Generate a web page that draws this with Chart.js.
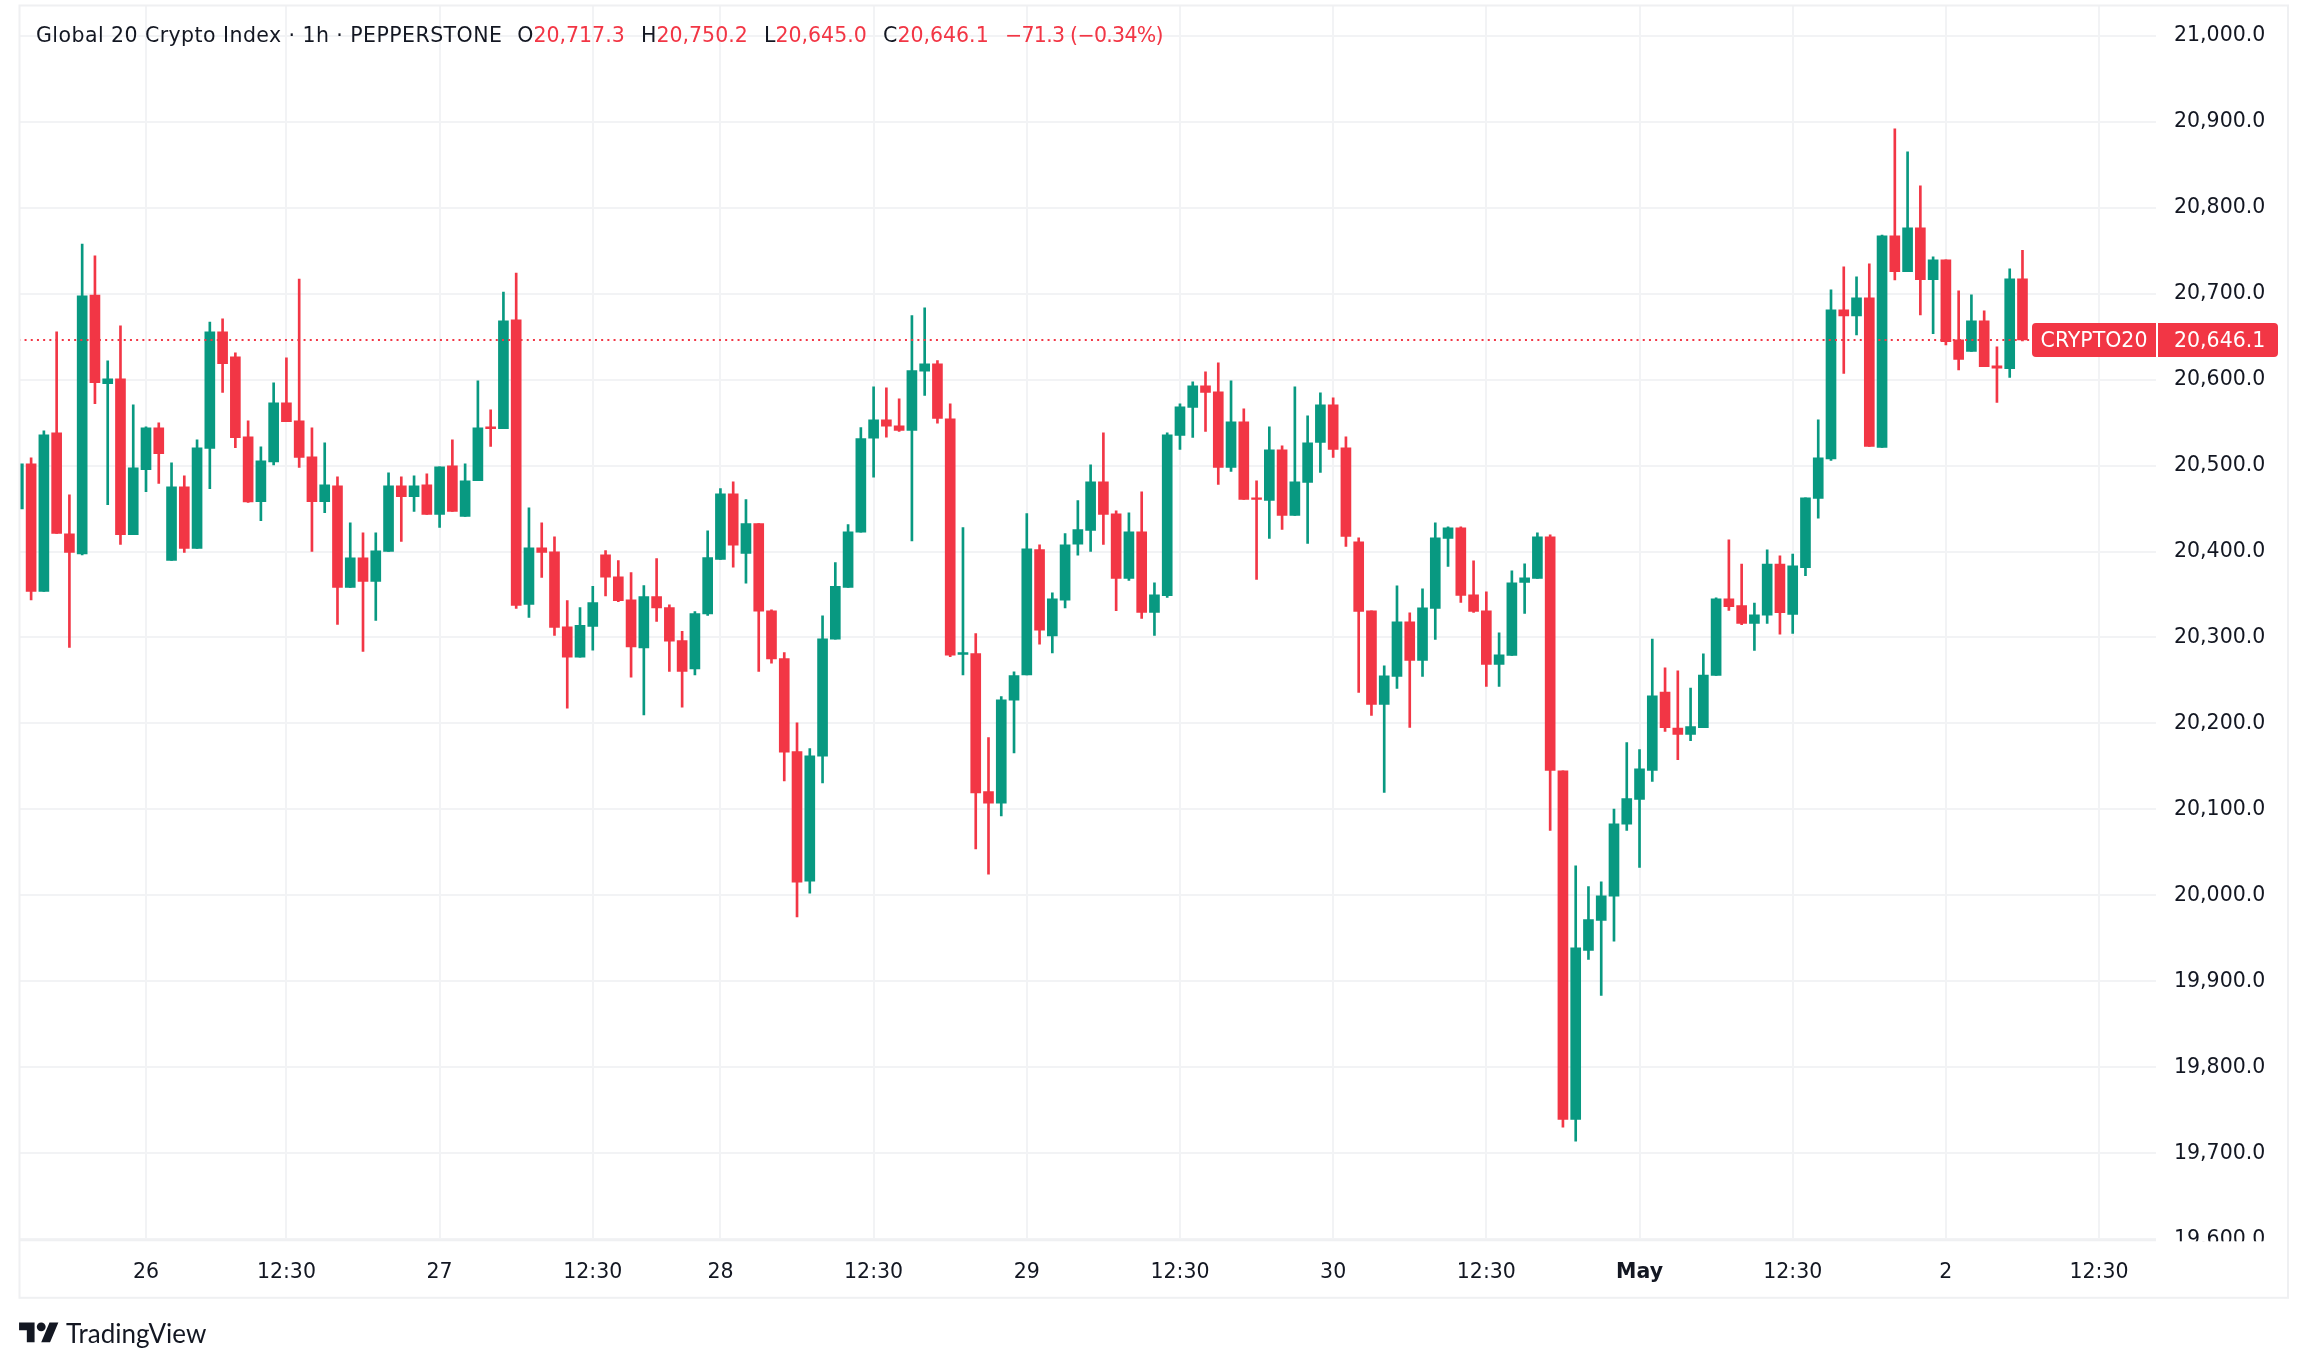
<!DOCTYPE html>
<html>
<head>
<meta charset="utf-8">
<title>Global 20 Crypto Index</title>
<script src="https://cdn.jsdelivr.net/npm/chart.js@4"></script>
<style>
    html, body { margin: 0; padding: 0; background: #fff; }
    body { width: 2308px; height: 1369px; position: relative; overflow: hidden; font-family: "DejaVu Sans", sans-serif; color: #131722; }
    canvas { position: absolute; left: 0; top: 0; }
    #legend { position: absolute; left: 36px; top: 22px; font-size: 20.5px; line-height: 26px; white-space: nowrap; }
    #legend .title { letter-spacing: 0.44px; margin-right: 15px; }
    #legend .val { color: #F23645; margin-right: 16.3px; }
    #legend .change { letter-spacing: -0.7px; }
    #brand { position: absolute; left: 19px; top: 1318px; display: flex; align-items: center; font-family: Lato, sans-serif; font-size: 26px; height: 30px; }
    #brand svg { width: 40px; height: 31px; margin-right: 7px; }
</style>
</head>
<body>
<canvas id="chart" width="2308" height="1369"></canvas>
<div id="legend"><span class="title">Global 20 Crypto Index · 1h · PEPPERSTONE</span>O<span class="val">20,717.3</span>H<span class="val">20,750.2</span>L<span class="val">20,645.0</span>C<span class="val">20,646.1</span><span class="val change">−71.3 (−0.34%)</span></div>
<div id="brand"><svg viewBox="0 0 36 28"><path fill="#131722" d="M14 22H7V11H0V4h14v18zM28 22h-8l7.5-18h8L28 22z"/><circle fill="#131722" cx="20" cy="8" r="4"/></svg>TradingView</div>
<script>
// 1h candles
const opens = [
    20449.6, 20501.9, 20353.5, 20538.0, 20420.5, 20397.3, 20698.4, 20595.3, 20600.8, 20419.7,
    20495.3, 20543.8, 20389.5, 20475.2, 20403.5, 20519.8, 20655.4, 20626.3, 20533.3, 20458.1,
    20504.2, 20572.9, 20551.9, 20510.1, 20458.1, 20476.3, 20358.1, 20392.6, 20365.1, 20400.0,
    20476.3, 20463.9, 20477.5, 20443.0, 20499.6, 20440.7, 20482.5, 20544.9, 20543.0, 20669.4,
    20338.4, 20404.2, 20399.6, 20312.4, 20277.1, 20312.9, 20396.2, 20370.6, 20343.9, 20287.8,
    20347.6, 20334.8, 20296.4, 20263.3, 20327.3, 20390.9, 20467.2, 20397.8, 20432.5, 20331.1,
    20275.5, 20167.2, 20016.6, 20161.8, 20298.0, 20358.3, 20422.4, 20531.8, 20553.2, 20546.2,
    20540.9, 20609.8, 20618.3, 20554.2, 20280.3, 20281.4, 20120.7, 20107.4, 20227.0, 20256.3,
    20402.1, 20301.7, 20343.3, 20408.5, 20424.5, 20481.1, 20443.8, 20368.7, 20422.9, 20329.1,
    20348.5, 20534.9, 20567.5, 20592.7, 20585.7, 20497.7, 20550.8, 20462.4, 20459.3, 20518.3,
    20441.9, 20480.3, 20526.8, 20570.6, 20520.6, 20411.3, 20331.1, 20222.1, 20254.7, 20318.3,
    20273.3, 20333.8, 20415.2, 20427.6, 20349.7, 20331.1, 20268.6, 20279.1, 20364.0, 20368.7,
    20417.1, 20144.8, 19739.4, 19936.0, 19970.8, 19999.1, 20082.8, 20111.5, 20145.3, 20236.6,
    20194.7, 20187.2, 20195.2, 20255.8, 20345.0, 20337.0, 20316.3, 20325.9, 20385.4, 20326.9,
    20381.3, 20461.7, 20507.8, 20681.0, 20674.1, 20695.0, 20521.0, 20767.1, 20725.6, 20776.4,
    20716.3, 20739.2, 20646.2, 20632.6, 20668.2, 20615.9, 20612.8, 20717.3
];
const highs = [
    20501.9, 20508.9, 20540.3, 20655.4, 20465.9, 20757.7, 20743.8, 20621.7, 20662.4, 20570.5,
    20544.9, 20549.6, 20503.1, 20488.0, 20529.8, 20667.0, 20670.5, 20631.0, 20551.9, 20521.7,
    20596.1, 20625.2, 20717.0, 20543.8, 20526.3, 20486.8, 20433.3, 20421.7, 20421.7, 20491.5,
    20486.8, 20488.0, 20490.3, 20498.4, 20529.8, 20501.9, 20598.4, 20564.7, 20701.9, 20724.0,
    20450.8, 20433.3, 20417.0, 20342.8, 20334.8, 20359.4, 20401.0, 20389.3, 20375.4, 20360.4,
    20391.9, 20338.0, 20307.0, 20330.0, 20424.0, 20473.1, 20481.1, 20460.3, 20432.5, 20332.1,
    20282.5, 20200.8, 20170.9, 20325.2, 20387.1, 20431.4, 20544.1, 20591.6, 20590.5, 20577.7,
    20674.4, 20683.4, 20622.0, 20571.9, 20427.7, 20304.4, 20183.7, 20231.2, 20260.1, 20444.2,
    20407.9, 20351.9, 20420.8, 20459.2, 20500.8, 20538.0, 20447.3, 20445.0, 20469.4, 20363.6,
    20538.0, 20571.8, 20597.3, 20609.0, 20619.4, 20598.5, 20565.9, 20482.2, 20545.0, 20522.9,
    20591.5, 20557.8, 20584.5, 20578.7, 20533.4, 20415.9, 20331.1, 20267.1, 20360.1, 20328.7,
    20356.6, 20433.4, 20428.7, 20428.7, 20389.2, 20353.1, 20305.5, 20377.6, 20385.7, 20421.8,
    20419.4, 20144.8, 20034.4, 20010.2, 20015.7, 20100.4, 20177.6, 20169.5, 20298.1, 20264.8,
    20261.3, 20241.1, 20281.0, 20346.0, 20413.6, 20385.4, 20340.0, 20402.0, 20394.9, 20397.0,
    20462.4, 20553.1, 20704.3, 20731.0, 20719.4, 20734.5, 20768.2, 20891.5, 20864.8, 20825.2,
    20742.7, 20739.2, 20703.1, 20698.5, 20679.9, 20638.0, 20728.7, 20750.2
];
const lows = [
    20449.6, 20343.8, 20353.5, 20420.9, 20288.4, 20396.1, 20572.1, 20454.6, 20408.1, 20419.7,
    20469.7, 20479.1, 20389.5, 20398.8, 20403.5, 20473.2, 20584.9, 20520.9, 20457.0, 20436.0,
    20500.8, 20551.1, 20497.7, 20400.0, 20445.3, 20315.1, 20358.1, 20283.7, 20319.7, 20400.0,
    20411.6, 20446.5, 20443.0, 20427.9, 20446.5, 20440.7, 20482.5, 20522.1, 20543.0, 20333.7,
    20323.2, 20369.8, 20302.3, 20217.9, 20277.1, 20285.2, 20348.2, 20341.7, 20253.7, 20209.9,
    20318.8, 20260.6, 20218.9, 20256.3, 20325.7, 20390.9, 20381.8, 20363.1, 20260.6, 20270.2,
    20133.0, 19975.0, 20002.7, 20130.9, 20298.0, 20358.3, 20422.4, 20486.4, 20532.9, 20539.8,
    20412.2, 20581.5, 20549.4, 20277.7, 20256.3, 20054.0, 20024.6, 20092.4, 20165.6, 20256.3,
    20292.1, 20281.9, 20334.3, 20395.7, 20400.0, 20408.2, 20331.1, 20366.3, 20322.1, 20302.4,
    20346.6, 20518.7, 20532.6, 20539.6, 20478.0, 20493.1, 20460.5, 20367.5, 20415.2, 20425.6,
    20441.9, 20409.3, 20491.9, 20509.3, 20405.9, 20236.1, 20209.3, 20119.8, 20240.7, 20195.4,
    20254.7, 20297.7, 20382.6, 20340.8, 20329.1, 20243.1, 20243.1, 20279.1, 20328.0, 20368.7,
    20075.7, 19730.3, 19714.1, 19925.4, 19883.6, 19946.6, 20075.7, 20032.4, 20132.7, 20190.7,
    20157.9, 20180.1, 20195.2, 20255.8, 20331.4, 20314.8, 20285.0, 20316.3, 20303.7, 20304.7,
    20372.0, 20438.8, 20505.8, 20607.0, 20652.0, 20522.1, 20521.0, 20715.9, 20725.6, 20675.2,
    20653.5, 20640.3, 20611.3, 20632.6, 20615.1, 20573.3, 20602.4, 20645.0
];
const closes = [
    20501.9, 20353.5, 20535.6, 20420.9, 20398.8, 20697.3, 20596.5, 20600.8, 20419.7, 20497.3,
    20543.8, 20513.9, 20475.2, 20403.5, 20520.5, 20655.4, 20618.6, 20532.5, 20457.7, 20505.4,
    20572.9, 20551.1, 20509.3, 20458.1, 20477.5, 20358.1, 20392.6, 20365.1, 20400.8, 20476.3,
    20463.9, 20476.3, 20443.0, 20498.4, 20446.5, 20482.2, 20543.8, 20543.0, 20668.2, 20337.2,
    20404.2, 20398.8, 20311.6, 20277.1, 20314.0, 20340.7, 20370.0, 20342.8, 20288.9, 20347.6,
    20334.3, 20295.8, 20260.6, 20327.9, 20393.0, 20467.2, 20407.4, 20432.5, 20330.5, 20275.0,
    20166.6, 20015.5, 20162.4, 20298.5, 20359.4, 20422.9, 20531.3, 20553.2, 20545.7, 20540.9,
    20610.3, 20618.3, 20554.8, 20279.3, 20282.5, 20119.1, 20107.4, 20227.5, 20255.8, 20403.1,
    20308.6, 20344.9, 20407.9, 20425.6, 20481.1, 20443.1, 20368.7, 20422.9, 20329.1, 20349.7,
    20535.7, 20568.3, 20592.7, 20584.9, 20497.7, 20550.8, 20460.5, 20460.5, 20518.3, 20441.9,
    20481.1, 20526.4, 20570.6, 20518.7, 20417.5, 20330.3, 20222.1, 20255.5, 20318.3, 20273.3,
    20334.5, 20415.9, 20427.6, 20348.9, 20330.3, 20268.6, 20279.9, 20363.6, 20369.4, 20417.1,
    20145.3, 19739.4, 19939.1, 19971.8, 19999.6, 20083.3, 20112.5, 20147.3, 20232.1, 20195.2,
    20187.2, 20196.3, 20256.3, 20345.0, 20335.9, 20316.3, 20326.4, 20385.4, 20328.9, 20383.3,
    20462.4, 20508.9, 20681.0, 20674.1, 20695.0, 20522.1, 20767.1, 20725.6, 20776.4, 20716.3,
    20739.2, 20644.2, 20623.3, 20668.2, 20615.1, 20613.2, 20717.1, 20646.1
];

// axis ticks: candle number and its label
const timeTickBars = [10, 21, 33, 45, 55, 67, 79, 91, 103, 115, 127, 139, 151, 163];
const timeTickLabels = ['26', '12:30', '27', '12:30', '28', '12:30', '29', '12:30', '30', '12:30', 'May', '12:30', '2', '12:30'];
const priceTicks = [19600, 19700, 19800, 19900, 20000, 20100, 20200, 20300, 20400, 20500, 20600, 20700, 20800, 20900, 21000];

const symbolName = 'CRYPTO20';
const UP = '#089981';
const DOWN = '#F23645';
const GRID = '#f2f3f5';
const BORDER = '#eff0f2';
const TEXT = '#131722';
const FONT = '"DejaVu Sans", sans-serif';

const lastClose = closes[closes.length - 1];
const candleColors = closes.map((c, i) => c >= opens[i] ? UP : DOWN);
const fmt = v => v.toLocaleString('en-US', { minimumFractionDigits: 1, maximumFractionDigits: 1 });

// frame, clipped bottom tick, last price tag
const overlay = {
    id: 'overlay',
    afterDraw(chart) {
        const { ctx, chartArea: a, scales: { y } } = chart;
        const right = a.right + 132;
        const bottom = a.bottom + 57.5;
        ctx.save();
        // the lowest price label is cut by the time axis
        ctx.fillStyle = '#fff';
        ctx.fillRect(a.right, a.bottom + 1, 131, 55);

        ctx.strokeStyle = BORDER;
        ctx.lineWidth = 2;
        ctx.strokeRect(a.left, a.top, right - a.left, bottom - a.top);
        ctx.beginPath();
        ctx.moveTo(a.left, a.bottom);
        ctx.lineTo(a.right, a.bottom);
        ctx.stroke();

        const py = y.getPixelForValue(lastClose);
        ctx.fillStyle = DOWN;
        ctx.beginPath();
        ctx.roundRect(2032, py - 17, 124, 34, [4, 0, 0, 4]);
        ctx.roundRect(2158, py - 17, 120, 34, [0, 4, 4, 0]);
        ctx.fill();
        ctx.fillStyle = '#fff';
        ctx.font = '20.5px ' + FONT;
        ctx.textBaseline = 'middle';
        ctx.textAlign = 'center';
        ctx.fillText(symbolName, 2094, py + 2);
        ctx.textAlign = 'left';
        ctx.fillText(fmt(lastClose), 2174, py + 2);
        ctx.restore();
    }
};

new Chart(document.getElementById('chart'), {
    type: 'bar',
    data: {
        datasets: [
            {
                type: 'line',
                data: [{ x: 0, y: lastClose }, { x: 168, y: lastClose }],
                borderColor: DOWN,
                borderWidth: 2,
                borderDash: [2, 4.2],
                pointRadius: 0,
                order: 0
            },
            {
                data: opens.map((o, i) => ({ x: i, y: [o, closes[i]] })),
                backgroundColor: candleColors,
                barThickness: 10,
                grouped: false,
                order: 1
            },
            {
                data: lows.map((l, i) => ({ x: i, y: [l, highs[i]] })),
                backgroundColor: candleColors,
                barThickness: 2,
                grouped: false,
                order: 2
            }
        ]
    },
    plugins: [overlay],
    options: {
        responsive: false,
        animation: false,
        devicePixelRatio: 1,
        layout: { padding: { left: 19.5, top: 5.5, right: 20, bottom: 71 } },
        plugins: { legend: { display: false }, tooltip: { enabled: false } },
        scales: {
            x: {
                type: 'linear',
                offset: false,
                min: 0.09,
                max: 167.46,
                grid: { color: GRID, lineWidth: 2, offset: false, drawTicks: false },
                border: { display: false },
                afterFit(scale) {
                    scale.height = 57.7;
                    scale.paddingLeft = 0;
                    scale.paddingRight = 0;
                },
                afterBuildTicks(scale) { scale.ticks = timeTickBars.map(v => ({ value: v })); },
                ticks: {
                    autoSkip: false,
                    maxRotation: 0,
                    padding: 20,
                    color: TEXT,
                    font: ctx => ({ family: FONT, size: 20.5, weight: ctx.tick && ctx.tick.value === 127 ? 'bold' : 'normal' }),
                    callback: v => timeTickLabels[timeTickBars.indexOf(v)]
                }
            },
            y: {
                position: 'right',
                min: 19598.8,
                max: 21035.1,
                grid: { color: GRID, lineWidth: 2, drawTicks: false },
                border: { display: false },
                afterFit(scale) {
                    scale.width = 132;
                    scale.paddingTop = 0;
                    scale.paddingBottom = 0;
                },
                afterBuildTicks(scale) { scale.ticks = priceTicks.map(v => ({ value: v })); },
                ticks: {
                    padding: 18,
                    color: TEXT,
                    font: { family: FONT, size: 20.5 },
                    callback: v => fmt(v)
                }
            }
        }
    }
});
</script>
</body>
</html>
